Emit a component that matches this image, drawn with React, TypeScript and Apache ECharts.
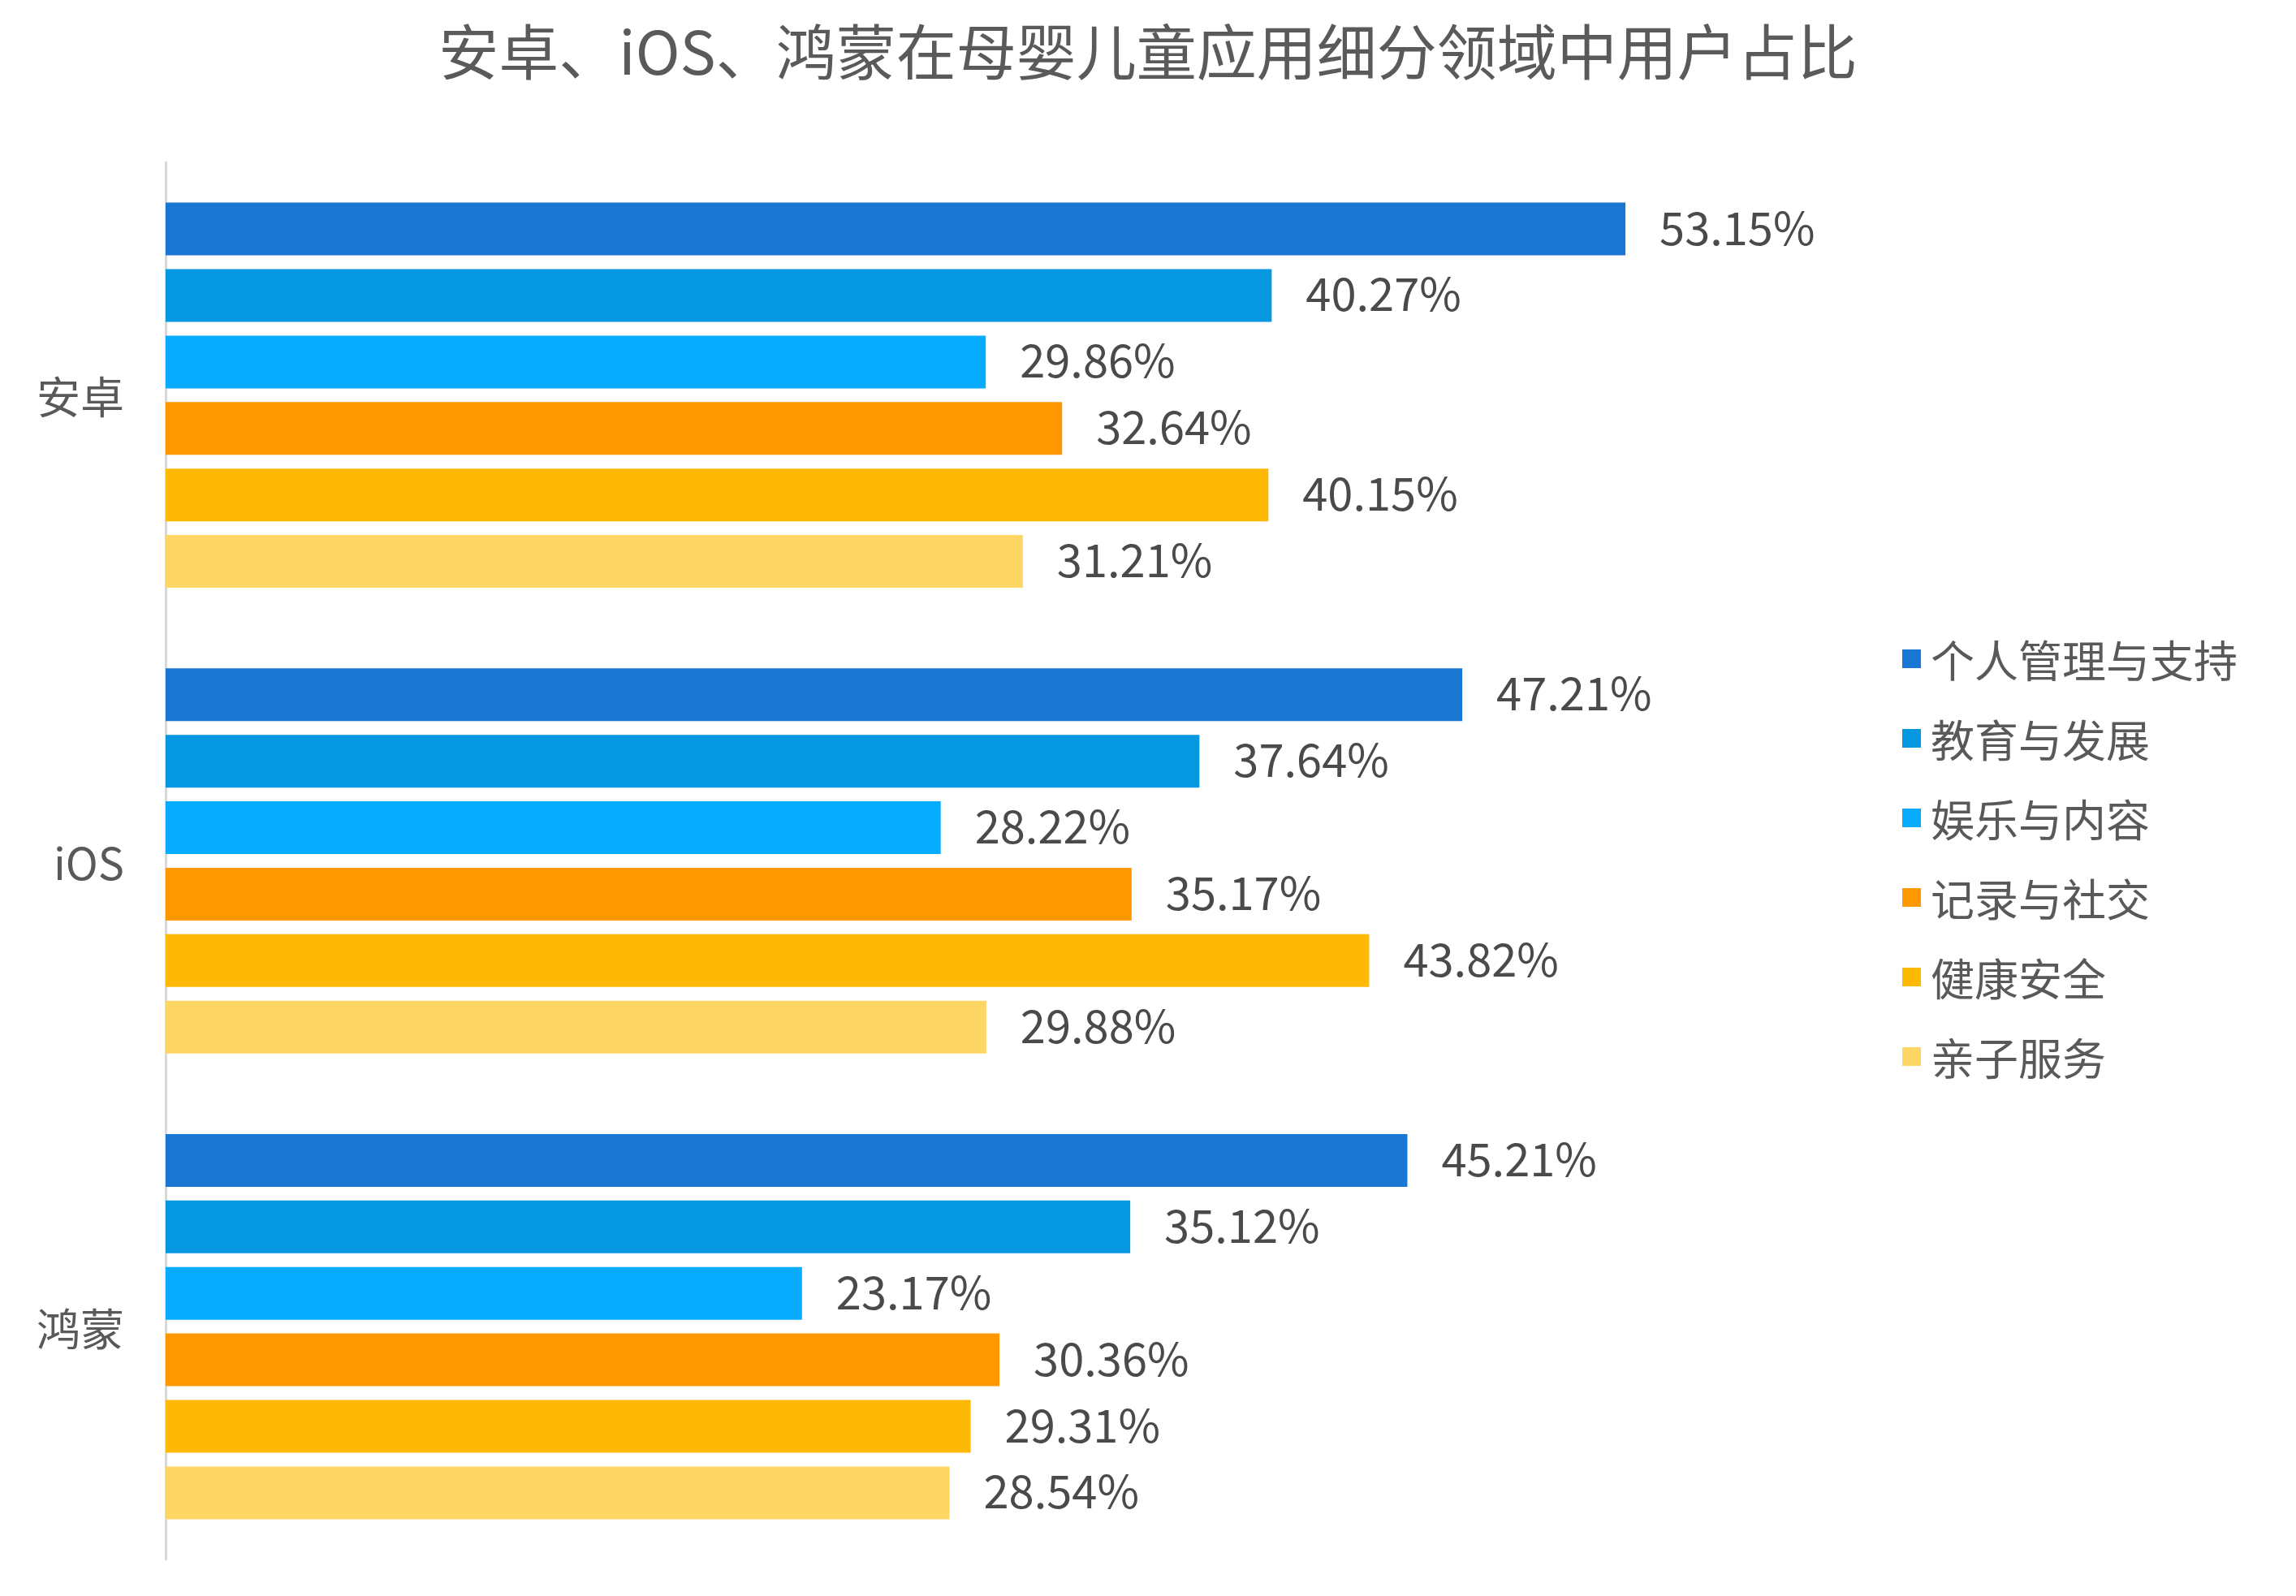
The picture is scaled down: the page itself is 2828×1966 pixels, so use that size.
import React, { useEffect, useRef } from "react";
import * as echarts from "echarts";

const categories = ["安卓", "iOS", "鸿蒙"];
const seriesNames = ["个人管理与支持", "教育与发展", "娱乐与内容", "记录与社交", "健康安全", "亲子服务"];
const personal = [53.15, 47.21, 45.21];
const education = [40.27, 37.64, 35.12];
const entertainment = [29.86, 28.22, 23.17];
const record = [32.64, 35.17, 30.36];
const health = [40.15, 43.82, 29.31];
const parenting = [31.21, 29.88, 28.54];
const colors = ["#1976D2", "#0597DF", "#07ACFE", "#FE9800", "#FDB904", "#FED666"];

const FONT = "'Noto Sans CJK SC', 'Noto Sans', sans-serif";

export default function App() {
  const ref = useRef<HTMLDivElement>(null);
  useEffect(() => {
    if (!ref.current) return;
    const chart = echarts.init(ref.current, null, { renderer: "svg" });
    const values = [personal, education, entertainment, record, health, parenting];
    chart.setOption({
      animation: false,
      backgroundColor: "#ffffff",
      textStyle: { fontFamily: FONT },
      title: {
        text: "安卓、iOS、鸿蒙在母婴儿童应用细分领域中用户占比",
        left: "center",
        top: 17,
        textStyle: { fontFamily: FONT, fontSize: 74, fontWeight: 400, color: "#5a5a5a" },
      },
      legend: {
        orient: "vertical",
        left: 2338,
        top: 779,
        itemWidth: 23,
        itemHeight: 23,
        itemGap: 43,
        icon: "rect",
        data: seriesNames,
        textStyle: { fontFamily: FONT, fontSize: 54, lineHeight: 55, color: "#595959", padding: [0, 0, 0, 7] },
      },
      grid: { left: 204, top: 200, width: 60 * 33.83, height: 1721, containLabel: false },
      xAxis: {
        type: "value",
        min: 0,
        max: 60,
        show: false,
      },
      yAxis: {
        type: "category",
        data: categories,
        inverse: true,
        axisLine: { show: true, lineStyle: { color: "#d9d9d9", width: 3 } },
        axisTick: { show: false },
        axisLabel: { fontFamily: FONT, fontSize: 54, color: "#595959", margin: 51, padding: [0, 0, 8, 0] },
      },
      series: seriesNames.map((name, i) => ({
        name,
        type: "bar",
        data: values[i],
        barWidth: 65,
        barGap: "26%",
        barCategoryGap: "17%",
        itemStyle: { color: colors[i] },
        label: {
          show: true,
          position: "right",
          distance: 42,
          offset: [0, -5],
          fontFamily: FONT,
          fontSize: 56,
          color: "#4a4a4a",
          formatter: (p: any) => Number(p.value).toFixed(2) + "%",
        },
      })),
    });
    return () => chart.dispose();
  }, []);
  return <div ref={ref} style={{ position: "fixed", left: 0, top: 0, width: 2828, height: 1966 }} />;
}
